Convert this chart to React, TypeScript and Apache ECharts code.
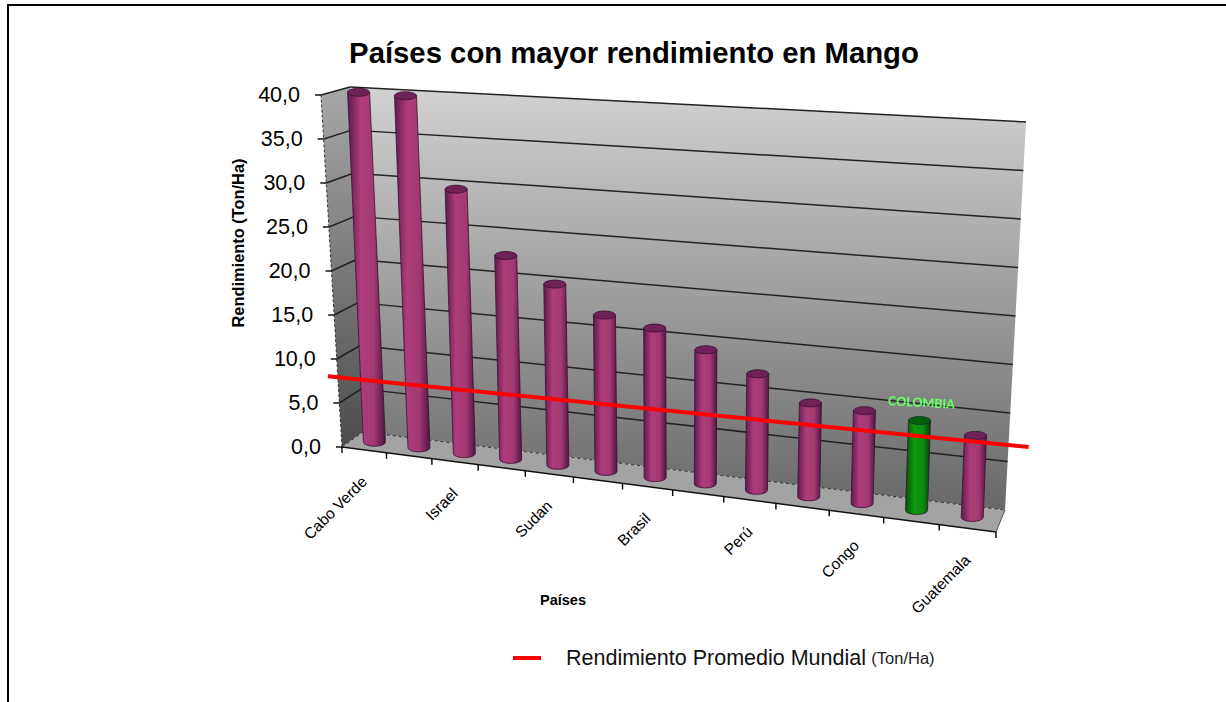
import React, { useEffect, useRef } from "react";
import * as echarts from "echarts";

const categories = ["Cabo Verde", "", "Israel", "", "Sudan", "", "Brasil", "", "Perú", "", "Congo", "", "Guatemala"];
const rendimiento = [40, 39.9, 29.7, 22.7, 20, 17.1, 16.2, 14.4, 12.4, 9.9, 9.7, 9.3, 8.4];
const colombiaIndex = 11;
const colombiaLabel = "COLOMBIA";
const yTicks = [0, 5, 10, 15, 20, 25, 30, 35, 40];
const promedioMundial = [7.9, 8.9];

const GRID = { left: 342, top: 96, width: 654, height: 351 };

type P = [number, number];
const lerp = (a: P, b: P, k: number): P => [a[0] + (b[0] - a[0]) * k, a[1] + (b[1] - a[1]) * k];
const FRONT = { bl: [342, 447] as P, br: [996, 532] as P, tl: [321, 95] as P, tr: [1009, 135] as P };
const BACK = { bl: [363, 432] as P, br: [1005, 510] as P, tl: [350, 87] as P, tr: [1026, 122] as P };

const persp = (t: number) => t / (t + 1.141 * (1 - t));
// t: 0..1 along the category axis (already perspective corrected), f: 0..1 of the value axis, d: 0 front, 1 back
const warp = (t: number, f: number, d: number): P => {
  const front = lerp(lerp(FRONT.bl, FRONT.br, t), lerp(FRONT.tl, FRONT.tr, t), f);
  const back = lerp(lerp(BACK.bl, BACK.br, t), lerp(BACK.tl, BACK.tr, t), f);
  return lerp(front, back, d);
};
const tOf = (px: number) => persp((px - GRID.left) / GRID.width);
const fOf = (py: number) => (GRID.top + GRID.height - py) / GRID.height;
const poly = (points: P[], style: any, extra: any = {}) => ({ type: "polygon", shape: { points }, style, ...extra });
const seg = (a: P, b: P, stroke: string, lineWidth = 1, lineDash?: number[]) => ({
  type: "line",
  shape: { x1: a[0], y1: a[1], x2: b[0], y2: b[1] },
  style: { stroke, lineWidth, lineDash, fill: null },
});
const vGrad = (c0: string, c1: string) => new echarts.graphic.LinearGradient(0, 0, 0, 1, [
  { offset: 0, color: c0 },
  { offset: 1, color: c1 },
]);

const BAR_W = 22;
const FONT = "Liberation Sans, Arial, sans-serif";

export default function App() {
  const ref = useRef<HTMLDivElement>(null);
  useEffect(() => {
    document.body.style.margin = "0";
    const chart = echarts.init(ref.current!, undefined, { renderer: "svg" });

    const renderWalls = (_p: any, api: any) => {
      const gridY = yTicks.map((v) => fOf(api.coord([0, v])[1]));
      const children: any[] = [];
      children.push(poly([warp(0, 0, 1), warp(1, 0, 1), warp(1, 1, 1), warp(0, 1, 1)], { fill: vGrad("#d2d2d2", "#686868") }));
      children.push(poly([warp(0, 0, 0), warp(0, 0, 1), warp(0, 1, 1), warp(0, 1, 0)], { fill: vGrad("#a8a8a8", "#4c4c4c") }));
      children.push(poly([warp(0, 0, 0), warp(1, 0, 0), warp(1, 0, 1), warp(0, 0, 1)], { fill: "#a3a3a3" }));
      gridY.forEach((f, i) => {
        if (i === 0) return;
        children.push(seg(warp(0, f, 1), warp(1, f, 1), "#222", 1.5));
        children.push(seg(warp(0, f, 0), warp(0, f, 1), "#222", 1.5));
      });
      children.push(seg(warp(0, 0, 1), warp(1, 0, 1), "#333", 1, [3, 3]));
      children.push(seg(warp(0, 0, 0), warp(0, 0, 1), "#333", 1, [3, 3]));
      children.push(seg(warp(1, 0, 0), warp(1, 0, 1), "#555", 1));
      children.push(seg(warp(0, 0, 0), warp(1, 0, 0), "#111", 1.5));
      children.push(seg(warp(0, 0, 0), warp(0, 1, 0), "#333", 1, [3, 2]));
      // axis ticks
      gridY.forEach((f) => {
        const a = warp(0, f, 0);
        children.push(seg([a[0] - 6, a[1]], [a[0], a[1]], "#000", 1.4));
      });
      categories.concat([""]).forEach((_c, i) => {
        const a = warp(persp(i / categories.length), 0, 0);
        children.push(seg(a, [a[0], a[1] + 6], "#000", 1.4));
      });
      return { type: "group", children };
    };

    const renderBar = (_p: any, api: any) => {
      const i = api.value(0);
      const c0 = api.coord([i, 0]);
      const c1 = api.coord([i, api.value(1)]);
      const t = tOf(c0[0]);
      const base = warp(t, fOf(c0[1]), 0.5);
      const top = warp(t, fOf(c1[1]), 0.5);
      const r = BAR_W / 2;
      const ry = 4;
      const green = i === colombiaIndex;
      const stops = green
        ? ["#045004", "#0f9a0f", "#0d8c0d", "#034003"]
        : ["#5c1a4c", "#ae3c7a", "#a23a70", "#4e1444"];
      const fill = new echarts.graphic.LinearGradient(0, 0, 1, 0, [
        { offset: 0, color: stops[0] },
        { offset: 0.35, color: stops[1] },
        { offset: 0.7, color: stops[2] },
        { offset: 1, color: stops[3] },
      ]);
      const d = `M${top[0] - r} ${top[1]} L${base[0] - r} ${base[1]} A${r} ${ry} 0 0 0 ${base[0] + r} ${base[1]} L${top[0] + r} ${top[1]} Z`;
      const children: any[] = [
        { type: "path", shape: { pathData: d }, style: { fill, stroke: "#3a0f30", lineWidth: 0.8 } },
        {
          type: "ellipse",
          shape: { cx: top[0], cy: top[1], rx: r, ry },
          style: { fill: green ? "#066006" : "#6e2258", stroke: green ? "#033" : "#3a0f30", lineWidth: 0.8 },
        },
      ];
      if (green) {
        children.push({
          type: "text",
          x: top[0] + 2,
          y: top[1] - 18,
          rotation: -0.05,
          style: {
            text: colombiaLabel,
            fill: "#66ff66",
            font: "bold 12.5px Lato, sans-serif",
            textAlign: "center",
            textVerticalAlign: "middle",
          },
        });
      }
      return { type: "group", children };
    };

    const renderPromedio = (_p: any, api: any) => {
      const a = warp(-0.015, fOf(api.coord([0, promedioMundial[0]])[1]), 0);
      const b = warp(1.045, fOf(api.coord([0, promedioMundial[1]])[1]), 0);
      return { type: "group", children: [seg(a, b, "#ff0000", 4)] };
    };

    const renderYLabels = (_p: any, api: any) => {
      const v = api.value(0);
      const a = warp(0, fOf(api.coord([0, v])[1]), 0);
      return {
        type: "text",
        x: a[0] - 21,
        y: a[1],
        style: {
          text: v.toFixed(1).replace(".", ","),
          fill: "#000",
          font: `21.5px ${FONT}`,
          textAlign: "right",
          textVerticalAlign: "middle",
        },
      };
    };

    const renderXLabels = (_p: any, api: any) => {
      const i = api.value(0);
      const c0 = api.coord([i, 0]);
      const a = warp(tOf(c0[0]), 0, 0);
      return {
        type: "text",
        x: a[0],
        y: a[1] + 29,
        rotation: Math.PI / 4,
        style: {
          text: categories[i],
          fill: "#000",
          font: `15.5px ${FONT}`,
          textAlign: "right",
          textVerticalAlign: "middle",
        },
      };
    };

    chart.setOption({
      animation: false,
      backgroundColor: "#fff",
      title: {
        text: "Países con mayor rendimiento en Mango",
        left: 629,
        top: 33,
        textAlign: "center",
        textStyle: { fontFamily: FONT, fontSize: 29.3, fontWeight: "bold", color: "#000" },
      },
      grid: GRID,
      xAxis: { type: "category", data: categories, show: false },
      yAxis: { type: "value", min: 0, max: 40, interval: 5, show: false },
      legend: {
        left: 508,
        top: 642,
        icon: "rect",
        itemWidth: 28,
        itemHeight: 4,
        data: ["Rendimiento Promedio Mundial"],
        selectedMode: false,
        formatter: (n: string) => `{a|${n}} {b|(Ton/Ha)}`,
        textStyle: {
          fontFamily: FONT,
          rich: {
            a: { fontFamily: FONT, fontSize: 21.5, color: "#111", padding: [0, 2, 0, 20] },
            b: { fontFamily: FONT, fontSize: 16.5, color: "#222" },
          },
        },
      },
      graphic: [
        { type: "rect", shape: { x: 8, y: 5, width: 1400, height: 900 }, style: { fill: "none", stroke: "#000", lineWidth: 2 }, silent: true, z: 0 },
        { type: "text", x: 238, y: 243, rotation: Math.PI / 2, style: { text: "Rendimiento (Ton/Ha)", font: `bold 16.4px ${FONT}`, fill: "#000", textAlign: "center", textVerticalAlign: "middle" }, z: 5 },
        { type: "text", x: 563, y: 600, style: { text: "Países", font: `bold 14.5px ${FONT}`, fill: "#000", textAlign: "center", textVerticalAlign: "middle" }, z: 5 },
      ],
      series: [
        { type: "custom", name: "Paredes", data: [[0, 0]], renderItem: renderWalls, silent: true, z: 1 },
        {
          type: "custom",
          name: "Rendimiento",
          data: rendimiento.map((v, i) => [i, v]),
          renderItem: renderBar,
          encode: { x: 0, y: 1 },
          z: 2,
        },
        { type: "custom", name: "Rendimiento Promedio Mundial", data: [[0, promedioMundial[0]]], renderItem: renderPromedio, itemStyle: { color: "#ff0000" }, z: 3 },
        { type: "custom", name: "Eje Y", data: yTicks.map((v) => [v]), renderItem: renderYLabels, encode: { x: [], y: 0 }, z: 3 },
        {
          type: "custom",
          name: "Eje X",
          data: categories.map((c, i) => [i, 0]).filter((d) => categories[d[0]] !== ""),
          renderItem: renderXLabels,
          z: 3,
        },
      ],
    });
    return () => chart.dispose();
  }, []);
  return <div ref={ref} style={{ width: 1226, height: 702 }} />;
}
